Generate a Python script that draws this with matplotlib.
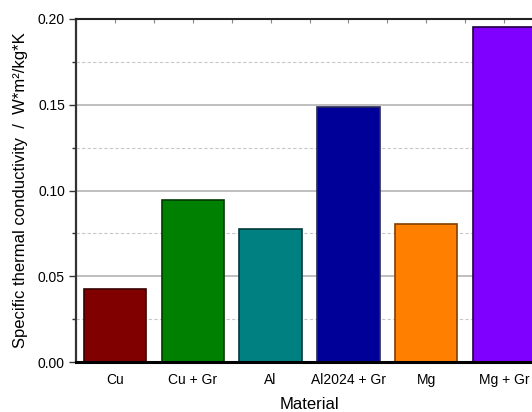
import matplotlib
matplotlib.use('Agg')
import matplotlib.pyplot as plt
import numpy as np
from matplotlib.ticker import MultipleLocator

plt.rcParams['font.family'] = ['Liberation Sans', 'DejaVu Sans']

materials = ['Cu', 'Cu + Gr', 'Al', 'Al2024 + Gr', 'Mg', 'Mg + Gr']
conductivity = [0.0426, 0.0945, 0.0776, 0.1487, 0.0805, 0.1956]
fill_colors = ['#800000', '#008000', '#008080', '#000099', '#ff8000', '#8000ff']
edge_colors = ['#3a0000', '#003a00', '#003a3a', '#2a2a55', '#804000', '#200040']

fig = plt.figure(figsize=(5.32, 4.12), dpi=100)
# axes run past the right edge of the figure
ax = fig.add_axes([76 / 532, 50 / 412, 467 / 532, 343 / 412])

x = np.arange(len(materials))
ax.bar(x, conductivity, width=0.8, color=fill_colors, edgecolor=edge_colors,
       linewidth=1.2, zorder=3)

ax.set_xlim(-0.5, len(materials) - 0.5)
ax.set_ylim(0, 0.20)
ax.yaxis.set_major_locator(MultipleLocator(0.05))
ax.yaxis.set_minor_locator(MultipleLocator(0.025))
ax.yaxis.set_major_formatter(plt.FormatStrFormatter('%.2f'))

ax.grid(axis='y', which='major', color='#b4b4b4', linewidth=1.2, zorder=0)
ax.grid(axis='y', which='minor', color='#c8c8c8', linewidth=0.8,
        linestyle=(0, (3, 2)), zorder=0)

ax.set_xticks(x)
ax.set_xticklabels(materials)
ax.tick_params(axis='x', which='both', length=0, labelsize=10, pad=8)
ax.tick_params(axis='y', which='major', direction='out', length=5, width=1,
               labelsize=10, color='#333333', pad=3)
ax.tick_params(axis='y', which='minor', direction='out', length=3, width=1,
               color='#333333')

# top axis with ticks at centres and between bars
top = ax.secondary_xaxis('top')
top.set_xticks(np.arange(-0.5, len(materials), 0.5))
top.tick_params(axis='x', direction='in', length=3, width=0.8,
                color='#888888', labeltop=False)
top.spines['top'].set_visible(False)

ax.spines['bottom'].set_linewidth(2.2)
ax.spines['bottom'].set_color('black')
ax.spines['left'].set_linewidth(1.6)
ax.spines['left'].set_color('#333333')
ax.spines['top'].set_linewidth(1.5)
ax.spines['top'].set_color('#222222')
ax.spines['right'].set_visible(False)
for s in ax.spines.values():
    s.set_zorder(4)

ax.set_xlabel('Material', fontsize=12, labelpad=7)
ax.set_ylabel('Specific thermal conductivity  /  W*m²/kg*K', fontsize=12,
              labelpad=7)

fig.savefig('out.png', dpi=100)
